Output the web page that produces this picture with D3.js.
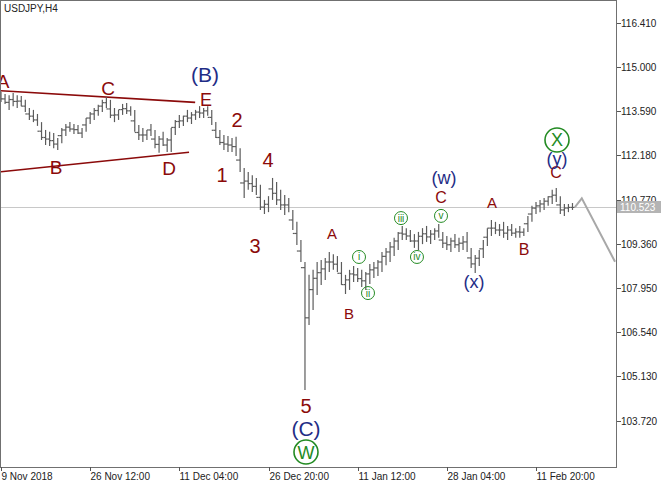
<!DOCTYPE html>
<html><head><meta charset="utf-8">
<script src="https://cdn.jsdelivr.net/npm/d3@7"></script>
<style>html,body{margin:0;padding:0;background:#fff;} svg{display:block;}</style>
</head><body><div id="chart"></div>
<script>
// ---- data ----
const highs = [114.20,114.14,114.10,114.17,114.10,114.07,113.95,113.69,113.63,113.50,
113.24,112.99,112.93,112.89,112.73,113.05,113.18,113.24,113.18,113.15,
113.05,113.37,113.56,113.69,113.79,113.95,114.04,113.95,113.69,113.63,
113.82,113.85,113.75,113.63,113.15,113.05,112.99,113.18,112.99,112.80,
112.93,112.73,113.05,113.31,113.47,113.44,113.63,113.56,113.63,113.75,
113.69,113.75,113.63,113.24,112.99,112.83,112.80,112.73,112.77,112.41,
111.78,111.65,111.55,111.46,111.24,110.76,110.88,111.46,111.33,111.08,
110.92,110.82,110.44,110.06,109.48,108.78,108.37,108.53,108.78,108.84,
108.91,109.10,109.03,108.97,108.78,108.37,108.53,108.65,108.59,108.53,
108.46,108.72,108.78,108.84,109.10,109.23,109.42,109.55,109.74,109.93,
109.86,109.80,109.67,109.74,109.86,109.93,109.80,109.86,109.99,109.74,
109.61,109.55,109.67,109.55,109.61,109.74,109.23,109.00,109.16,109.48,
109.86,110.12,110.06,109.99,110.06,109.93,109.99,109.86,109.93,109.86,
110.25,110.57,110.69,110.76,110.82,110.88,111.08,111.14,110.88,110.63,
110.63,110.66];
const lows = [113.88,113.82,113.63,113.75,113.69,113.75,113.56,113.31,113.24,113.12,
112.67,112.51,112.48,112.41,112.35,112.57,112.80,112.93,112.86,112.86,
112.73,112.93,113.18,113.31,113.44,113.56,113.69,113.37,113.24,113.31,
113.47,113.50,113.44,112.93,112.67,112.61,112.67,112.80,112.41,112.26,
112.48,112.29,112.29,112.83,113.05,113.12,113.24,113.18,113.31,113.37,
113.37,113.44,113.15,112.73,112.51,112.35,112.29,112.29,112.16,111.65,
110.82,111.08,111.01,110.92,110.44,110.31,110.37,110.76,110.60,110.44,
110.28,110.37,109.80,109.32,108.78,104.70,106.77,107.25,107.73,108.05,
108.21,108.46,108.53,108.46,108.05,107.76,107.89,108.14,108.14,107.98,
107.89,108.08,108.27,108.33,108.46,108.68,108.78,108.97,109.16,109.48,
109.48,109.42,109.23,109.16,109.35,109.42,109.35,109.48,109.55,109.23,
109.16,109.10,109.23,109.10,109.16,109.10,108.59,108.43,108.65,108.91,
109.29,109.61,109.67,109.61,109.55,109.48,109.61,109.55,109.55,109.61,
109.74,110.06,110.31,110.37,110.44,110.57,110.63,110.69,110.31,110.25,
110.37,110.44];
const closes = [113.98,113.87,113.96,113.90,113.91,113.75,113.50,113.43,113.31,112.95,
112.75,112.70,112.65,112.54,112.81,112.99,113.08,113.02,113.00,112.89,
113.15,113.37,113.50,113.61,113.75,113.86,113.66,113.46,113.47,113.64,
113.67,113.60,113.28,112.91,112.83,112.83,112.99,112.70,112.53,112.70,
112.51,112.67,113.07,113.26,113.28,113.43,113.37,113.47,113.56,113.53,
113.60,113.39,112.98,112.75,112.59,112.54,112.51,112.46,112.03,111.30,
111.36,111.28,111.19,110.84,110.53,110.62,111.11,110.97,110.76,110.60,
110.60,110.12,109.69,109.13,108.60,107.00,107.90,108.26,108.44,108.56,
108.78,108.78,108.71,108.42,108.06,108.21,108.40,108.37,108.25,108.18,
108.40,108.53,108.59,108.78,108.96,109.10,109.26,109.45,109.70,109.67,
109.61,109.45,109.45,109.60,109.68,109.58,109.67,109.77,109.48,109.38,
109.33,109.45,109.33,109.38,109.42,108.91,108.72,108.90,109.20,109.57,
109.86,109.86,109.80,109.80,109.70,109.80,109.70,109.74,109.73,110.00,
110.31,110.50,110.57,110.63,110.72,110.86,110.91,110.60,110.44,110.50,
110.52,110.52];
const timeLabels = ["9 Nov 2018","26 Nov 12:00","11 Dec 04:00","26 Dec 20:00","11 Jan 12:00","28 Jan 04:00","11 Feb 20:00"];
const timeLabelIndex = [0,22,44,66,88,110,132];
const priceTicks = [103.72,105.13,106.54,107.95,109.36,110.77,112.18,113.59,115.00,116.41];
const lastPrice = 110.523;
const trendUpper = [[0,114.24],[47.9,113.87]];
const trendLower = [[0,111.66],[46.4,112.28]];
const forecast = [[141.6,110.53],[143.3,110.81],[151.5,108.79]];
// [text, bar index, price, font size]
const redLabels = [["A",0.49,114.33,19],["C",26.40,114.10,19],["E",50.58,113.75,18],["B",13.57,111.59,19],
 ["D",41.45,111.55,19],["1",54.53,111.33,20],["2",58.23,113.08,20],["3",62.67,109.07,20],["4",65.88,111.81,20],
 ["5",75.25,103.96,20],["A",81.67,109.51,15],["B",85.86,106.96,15],["C",108.56,110.66,16],["A",121.14,110.50,15],
 ["B",129.04,109.00,16],["C",136.94,111.46,16]];
const blueLabels = [["(B)",50.33,114.52,21],["(C)",75.25,103.23,21],["(w)",109.30,111.27,18],["(x)",116.70,107.95,18],["(y)",137.18,111.87,18]];
const bigCircles = [["W",75.25,102.72],["X",137.18,112.67]];
const smallCircles = [["i",88.33,108.94],["ii",90.55,107.79],["iii",98.69,110.18],["iv",102.63,108.94],["v",108.56,110.25]];

// ---- drawing ----
const W = 670, H = 485, plotR = 616, plotB = 467;
const svg = d3.select("#chart").append("svg").attr("width", W).attr("height", H);
const x = d3.scaleLinear().domain([0, 132]).range([1, 536]);
const y = d3.scaleLinear().domain([103.72, 116.41]).range([420.7, 22.7]);
const RED = "#8b0a0a", BLUE = "#1f2d86", GREEN = "#238b23";
const font = "'Liberation Sans', Arial, sans-serif";

// current price line
svg.append("line").attr("x1", 0).attr("x2", plotR).attr("y1", Math.round(y(lastPrice)) + 0.5).attr("y2", Math.round(y(lastPrice)) + 0.5)
  .attr("stroke", "#c8c8c8").attr("stroke-width", 1);

// trend lines
const line = d3.line().x(d => x(d[0])).y(d => y(d[1]));
[trendUpper, trendLower].forEach(t => svg.append("path").attr("d", line(t)).attr("fill", "none").attr("stroke", RED).attr("stroke-width", 1.6));

// bars
const g = svg.append("g").attr("stroke", "#5c5c5c").attr("stroke-width", 1.2);
highs.forEach((h, i) => {
  const cx = x(i);
  const o = i > 0 ? closes[i - 1] : closes[i];
  g.append("line").attr("x1", cx).attr("x2", cx).attr("y1", y(h)).attr("y2", y(lows[i]));
  g.append("line").attr("x1", cx - 2).attr("x2", cx).attr("y1", y(o)).attr("y2", y(o));
  g.append("line").attr("x1", cx).attr("x2", cx + 2).attr("y1", y(closes[i])).attr("y2", y(closes[i]));
});

// forecast
svg.append("path").attr("d", line(forecast)).attr("fill", "none").attr("stroke", "#a8a8a8").attr("stroke-width", 2);

// labels
redLabels.forEach(d => svg.append("text").attr("x", x(d[1])).attr("y", y(d[2])).attr("text-anchor", "middle")
  .attr("font-family", font).attr("font-size", d[3]).attr("fill", RED).text(d[0]));
blueLabels.forEach(d => svg.append("text").attr("x", x(d[1])).attr("y", y(d[2])).attr("text-anchor", "middle")
  .attr("font-family", font).attr("font-size", d[3]).attr("fill", BLUE).text(d[0]));
bigCircles.forEach(d => {
  svg.append("circle").attr("cx", x(d[1])).attr("cy", y(d[2])).attr("r", 12).attr("fill", "none").attr("stroke", GREEN).attr("stroke-width", 1.6);
  svg.append("text").attr("x", x(d[1])).attr("y", y(d[2]) + 6.5).attr("text-anchor", "middle").attr("font-family", font)
    .attr("font-size", 18).attr("fill", GREEN).text(d[0]);
});
smallCircles.forEach(d => {
  svg.append("circle").attr("cx", x(d[1])).attr("cy", y(d[2])).attr("r", 6.5).attr("fill", "none").attr("stroke", GREEN).attr("stroke-width", 1);
  svg.append("text").attr("x", x(d[1])).attr("y", y(d[2]) + 3.5).attr("text-anchor", "middle").attr("font-family", font)
    .attr("font-size", 10).attr("fill", GREEN).text(d[0]);
});

// frame
svg.append("rect").attr("x", 0.5).attr("y", 0.5).attr("width", plotR).attr("height", plotB - 0.5)
  .attr("fill", "none").attr("stroke", "#707070").attr("stroke-width", 1).attr("shape-rendering", "crispEdges");

// title
svg.append("text").attr("x", 4).attr("y", 12).attr("font-family", font).attr("font-size", 10).attr("fill", "#222").text("USDJPY,H4");

// y axis (right)
const ya = svg.append("g").attr("shape-rendering", "crispEdges");
priceTicks.forEach(p => {
  const yy = Math.round(y(p)) + 0.5;
  ya.append("line").attr("x1", plotR + 0.5).attr("x2", plotR + 4.5).attr("y1", yy).attr("y2", yy).attr("stroke", "#555");
  svg.append("text").attr("x", plotR + 5).attr("y", yy + 3.5).attr("font-family", font).attr("font-size", 10).attr("fill", "#222").text(d3.format(".3f")(p));
});
// last price tag
const ly = y(lastPrice);
svg.append("rect").attr("x", plotR + 1).attr("y", Math.round(ly) - 6).attr("width", 44).attr("height", 12).attr("fill", "#b4b4b4");
svg.append("text").attr("x", plotR + 4).attr("y", Math.round(ly) + 4).attr("font-family", font).attr("font-size", 10).attr("fill", "#fff").text(d3.format(".3f")(lastPrice));

// x axis
timeLabelIndex.forEach((idx, k) => {
  const xx = Math.round(x(idx)) + 0.5;
  svg.append("line").attr("x1", xx).attr("x2", xx).attr("y1", plotB).attr("y2", plotB + 4).attr("stroke", "#555").attr("shape-rendering", "crispEdges");
  svg.append("text").attr("x", xx).attr("y", plotB + 13).attr("font-family", font).attr("font-size", 10).attr("fill", "#222").text(timeLabels[k]);
});
</script></body></html>
